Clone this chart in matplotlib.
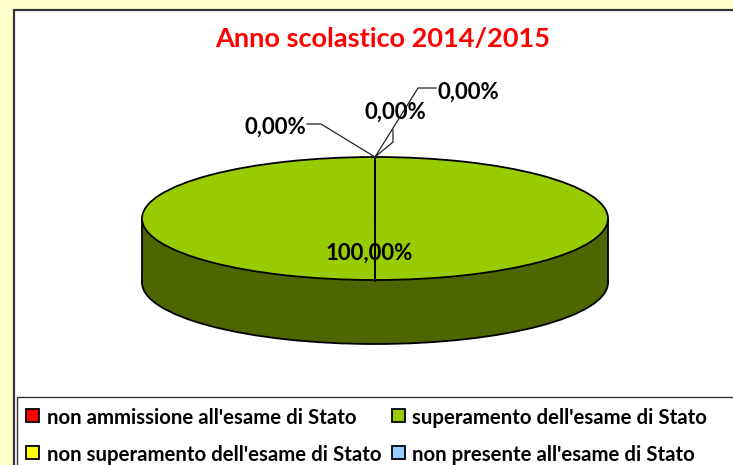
import matplotlib
matplotlib.use('Agg')
import matplotlib.pyplot as plt
from matplotlib.patches import Rectangle

plt.rcParams['font.family'] = ['Lato', 'DejaVu Sans']

title = 'Anno scolastico 2014/2015'
categories = ["non ammissione all'esame di Stato", "superamento dell'esame di Stato",
              "non superamento dell'esame di Stato", "non presente all'esame di Stato"]
shares = [0.0, 100.0, 0.0, 0.0]
colors = ['#FF0000', '#99CC00', '#FFFF00', '#99CCFF']
side_colors = ['#800000', '#4D6600', '#808000', '#4D6680']

W, H = 733, 465
# pie geometry in pixels
cx, cy, rx, ry, depth = 375, 218.5, 233, 61.5, 64

fig = plt.figure(figsize=(W / 100, H / 100), dpi=100, facecolor='#FFFFCC')


def pixel_axes(z):
    a = fig.add_axes([0, 0, 1, 1], zorder=z)
    a.set_xlim(0, W)
    a.set_ylim(H, 0)
    a.axis('off')
    return a


bg = pixel_axes(0)
bg.add_patch(Rectangle((14, 10), W, H, fc='white', ec='#333333', lw=1.6))

# 3d look: dark pie shifted down, a band, then the top pie
ap = fig.add_axes([0, 0, 1, 1], zorder=1)
d = depth / ry
ap.pie(shares, colors=side_colors, startangle=90, counterclock=False, center=(0, -d),
       wedgeprops={'edgecolor': 'black', 'linewidth': 1.3})
ap.add_patch(Rectangle((-1, -d), 2, d, fc=side_colors[1], ec='none', zorder=5))
ap.plot([-1, -1], [0, -d], color='black', lw=1.3, zorder=6)
ap.plot([1, 1], [0, -d], color='black', lw=1.3, zorder=6)
wedges, _ = ap.pie(shares, colors=colors, startangle=90, counterclock=False,
                   wedgeprops={'edgecolor': 'black', 'linewidth': 1.3})
for w in wedges:
    w.set_zorder(7)
ap.set_aspect('auto')
ap.set_xlim(-cx / rx, (W - cx) / rx)
ap.set_ylim((cy - H) / ry, cy / ry)
ap.axis('off')

ax = pixel_axes(2)
ax.patch.set_alpha(0)
ax.text(382.5, 39, title, color='#FF0000', fontsize=19.5, fontweight='bold', ha='center', va='center')

# seam of the 100% slice
ax.plot([cx, cx], [157, 281], color='black', lw=1.4)

# data labels with leader lines, in slice order
label_pos = [(275, 127), (369.5, 253), (395, 112), (468, 92)]
leaders = [[(375, 157), (321, 124), (307, 124)], None,
           [(375, 157), (393, 142), (393, 130)], [(375, 157), (418, 88), (436, 88)]]
for val, pos, ln in zip(shares, label_pos, leaders):
    if ln:
        ax.plot([p[0] for p in ln], [p[1] for p in ln], color='#222222', lw=0.9)
    txt = f'{val:.2f}%'.replace('.', ',')
    ax.text(pos[0], pos[1], txt, color='black', fontsize=16, fontweight='bold', ha='center', va='center')

# legend box runs off the bottom of the image
ax.add_patch(Rectangle((17, 397), W, H, fc='white', ec='#333333', lw=1.0))
legend_x = [(26, 47), (391.5, 412)]
legend_y = [415.5, 452]
for i, (name, col) in enumerate(zip(categories, colors)):
    mx, tx = legend_x[i % 2]
    my = legend_y[i // 2]
    ax.add_patch(Rectangle((mx, my - 6.5), 13, 13, fc=col, ec='black', lw=1.3))
    ax.text(tx, my + 2.5, name, color='black', fontsize=14.7, fontweight='bold', ha='left', va='center')

fig.savefig('out.png', dpi=100, facecolor=fig.get_facecolor())
